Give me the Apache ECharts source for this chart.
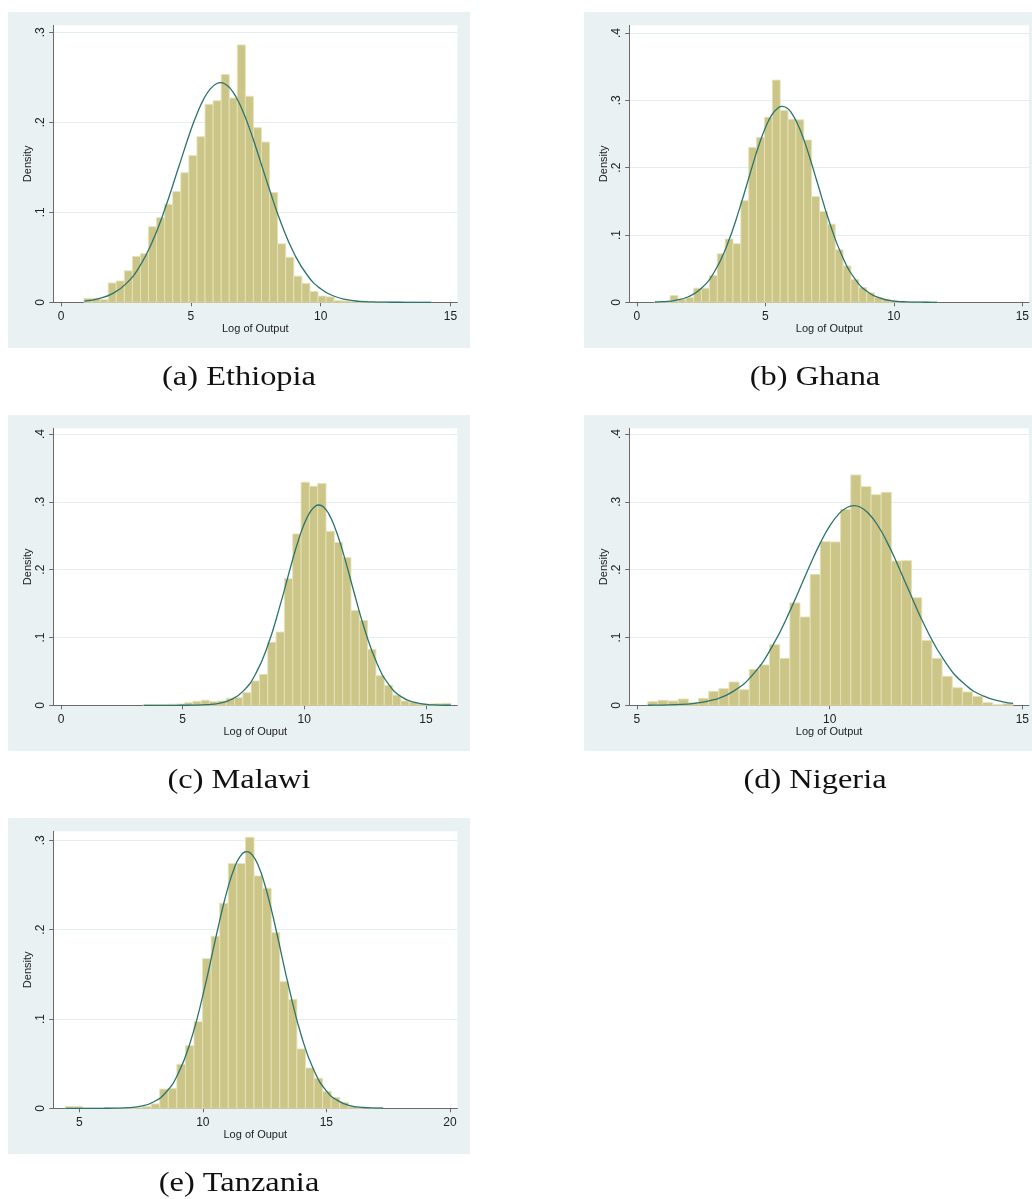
<!DOCTYPE html>
<html>
<head>
<meta charset="utf-8">
<title>Log of output histograms</title>
<script src="https://cdn.jsdelivr.net/npm/echarts@6/dist/echarts.min.js"></script>
<style>
  html, body { margin: 0; padding: 0; background: #ffffff; }
  #chart { width: 1032px; height: 1199px; }
</style>
</head>
<body>
<div id="chart"></div>
<script>
// ---- Histogram bins: first bin edge, bin width, and bar densities ----
const ethiopiaBinStart = 0.886;
const ethiopiaBinWidth = 0.3107;
const ethiopiaDensity = [
  0.0044, 0.0044, 0.0030, 0.0215, 0.0237, 0.0350, 0.0510, 0.0540, 0.0840, 0.0940,
  0.1090, 0.1230, 0.1440, 0.1630, 0.1840, 0.2200, 0.2240, 0.2530, 0.2270, 0.2860,
  0.2290, 0.1940, 0.1780, 0.1220, 0.0650, 0.0500, 0.0290, 0.0210, 0.0120, 0.0070,
  0.0060, 0.0020, 0.0015, 0.0010, 0.0008, 0.0005, 0.0004, 0.0003, 0.0003, 0.0002,
  0.0002, 0.0001, 0.0002
];

const ghanaBinStart = 0.68;
const ghanaBinWidth = 0.306;
const ghanaDensity = [
  0.0015, 0.0010, 0.0100, 0.0045, 0.0070, 0.0210, 0.0210, 0.0400, 0.0720, 0.0940,
  0.0870, 0.1510, 0.2300, 0.2450, 0.2750, 0.3300, 0.2850, 0.2720, 0.2710, 0.2410,
  0.1570, 0.1350, 0.1160, 0.0780, 0.0540, 0.0340, 0.0220, 0.0140, 0.0074, 0.0045,
  0.0030, 0.0015, 0.0008, 0.0005, 0.0005, 0.0004
];

const malawiBinStart = 3.37;
const malawiBinWidth = 0.342;
const malawiDensity = [
  0.0010, 0.0010, 0.0010, 0.0015, 0.0020, 0.0040, 0.0059, 0.0074, 0.0054, 0.0064,
  0.0103, 0.0113, 0.0187, 0.0359, 0.0457, 0.0930, 0.1080, 0.1867, 0.2526, 0.3290,
  0.3230, 0.3270, 0.2565, 0.2400, 0.2180, 0.1400, 0.1250, 0.0826, 0.0437, 0.0295,
  0.0150, 0.0064, 0.0044, 0.0025, 0.0020, 0.0025, 0.0030
];

const nigeriaBinStart = 5.282;
const nigeriaBinWidth = 0.2633;
const nigeriaDensity = [
  0.0054, 0.0074, 0.0064, 0.0093, 0.0044, 0.0103, 0.0206, 0.0246, 0.0344, 0.0231,
  0.0531, 0.0595, 0.0894, 0.0693, 0.1509, 0.1302, 0.1931, 0.2413, 0.2408, 0.2889,
  0.3396, 0.3224, 0.3106, 0.3140, 0.2128, 0.2133, 0.1587, 0.0958, 0.0693, 0.0428,
  0.0260, 0.0197, 0.0133, 0.0039, 0.0010, 0.0025
];

const tanzaniaBinStart = 4.438;
const tanzaniaBinWidth = 0.347;
const tanzaniaDensity = [
  0.0019, 0.0019, 0.0000, 0.0000, 0.0000, 0.0000, 0.0000, 0.0003, 0.0008, 0.0020,
  0.0049, 0.0216, 0.0224, 0.0493, 0.0701, 0.0970, 0.1675, 0.1925, 0.2295, 0.2739,
  0.2739, 0.3034, 0.2601, 0.2463, 0.1966, 0.1418, 0.1220, 0.0664, 0.0451, 0.0336,
  0.0190, 0.0123, 0.0065, 0.0019, 0.0008, 0.0005, 0.0011
];

// ---- Normal density overlays: [log output, density] ----
const ethiopiaNormal = [
  [0.9, 0.0014], [1.5, 0.0044], [2.0, 0.0099], [2.5, 0.0205], [3.0, 0.0386],
  [3.5, 0.0662], [4.0, 0.1036], [4.5, 0.1475], [5.0, 0.1914], [5.25, 0.2104],
  [5.5, 0.2260], [5.75, 0.2372], [6.0, 0.2431], [6.14, 0.2440], [6.3, 0.2428],
  [6.5, 0.2382], [6.75, 0.2276], [7.0, 0.2125], [7.25, 0.1938], [7.5, 0.1726],
  [8.0, 0.1278], [8.5, 0.0861], [9.0, 0.0529], [9.5, 0.0295], [10.0, 0.0150],
  [10.5, 0.0070], [11.0, 0.0029], [11.5, 0.0011], [12.0, 0.0004], [12.5, 0.00013],
  [13.0, 0.00004], [13.5, 0.00001], [14.0, 0.0], [14.26, 0.0]
];
const ghanaNormal = [
  [0.7, 0.0004], [1.0, 0.0009], [1.5, 0.0029], [2.0, 0.0082], [2.5, 0.0204],
  [3.0, 0.0443], [3.5, 0.0841], [4.0, 0.1398], [4.5, 0.2034], [4.75, 0.2335],
  [5.0, 0.2592], [5.25, 0.2783], [5.5, 0.2890], [5.66, 0.2910], [5.85, 0.2882],
  [6.0, 0.2822], [6.25, 0.2653], [6.5, 0.2412], [6.75, 0.2121], [7.0, 0.1805],
  [7.5, 0.1182], [8.0, 0.0678], [8.5, 0.0341], [9.0, 0.0150], [9.5, 0.0058],
  [10.0, 0.0019], [10.5, 0.0006], [11.0, 0.0002], [11.5, 0.00003], [11.7, 0.0]
];
const malawiNormal = [
  [3.4, 0.0], [4.0, 0.0], [4.5, 0.00001], [5.0, 0.00005], [5.5, 0.0002],
  [6.0, 0.0009], [6.5, 0.0030], [7.0, 0.0085], [7.5, 0.0212], [8.0, 0.0463],
  [8.5, 0.0882], [9.0, 0.1465], [9.5, 0.2120], [9.75, 0.2423], [10.0, 0.2675],
  [10.25, 0.2856], [10.45, 0.2935], [10.6, 0.2953], [10.8, 0.2921], [11.0, 0.2826],
  [11.25, 0.2630], [11.5, 0.2365], [11.75, 0.2056], [12.0, 0.1726], [12.5, 0.1099],
  [13.0, 0.0610], [13.5, 0.0295], [14.0, 0.0124], [14.5, 0.0046], [15.0, 0.0015],
  [15.5, 0.0004], [16.03, 0.0001]
];
const nigeriaNormal = [
  [5.28, 0.0001], [5.5, 0.0002], [6.0, 0.0009], [6.5, 0.0029], [7.0, 0.0082],
  [7.5, 0.0205], [8.0, 0.0449], [8.5, 0.0857], [9.0, 0.1429], [9.5, 0.2080],
  [9.75, 0.2384], [10.0, 0.2642], [10.25, 0.2830], [10.45, 0.2917], [10.63, 0.2943],
  [10.8, 0.2920], [11.0, 0.2836], [11.25, 0.2651], [11.5, 0.2395], [11.75, 0.2092],
  [12.0, 0.1767], [12.5, 0.1137], [13.0, 0.0639], [13.5, 0.0313], [14.0, 0.0134],
  [14.5, 0.0050], [14.76, 0.0029]
];
const tanzaniaNormal = [
  [4.44, 0.0], [5.0, 0.0], [5.5, 0.00001], [6.0, 0.00005], [6.5, 0.0002],
  [7.0, 0.0008], [7.5, 0.0025], [8.0, 0.0071], [8.5, 0.0177], [9.0, 0.0388],
  [9.5, 0.0747], [10.0, 0.1264], [10.5, 0.1879], [10.75, 0.2183], [11.0, 0.2454],
  [11.25, 0.2671], [11.5, 0.2815], [11.78, 0.2873], [12.0, 0.2837], [12.25, 0.2713],
  [12.5, 0.2511], [12.75, 0.2252], [13.0, 0.1954], [13.5, 0.1335], [14.0, 0.0801],
  [14.5, 0.0423], [15.0, 0.0195], [15.5, 0.0080], [16.0, 0.0028], [16.5, 0.0009],
  [17.0, 0.0003], [17.3, 0.0001]
];

// ---- Tick labels ----
const ticksX0to15 = [0, 5, 10, 15];
const ticksX5to15 = [5, 10, 15];
const ticksX5to20 = [5, 10, 15, 20];
const ticksY3 = [0, 0.1, 0.2, 0.3];
const ticksY4 = [0, 0.1, 0.2, 0.3, 0.4];

// ---- Panel layout ----
const PANEL_W = 462, PANEL_H = 336;
const panels = [
  { caption: '(a) Ethiopia', xName: 'Log of Output', start: ethiopiaBinStart, width: ethiopiaBinWidth,
    density: ethiopiaDensity, normal: ethiopiaNormal, xTicks: ticksX0to15, yTicks: ticksY3,
    xMin: -0.296, xMax: 15.26, yMax: 0.3078, left: 8, top: 12 },
  { caption: '(b) Ghana', xName: 'Log of Output', start: ghanaBinStart, width: ghanaBinWidth,
    density: ghanaDensity, normal: ghanaNormal, xTicks: ticksX0to15, yTicks: ticksY4,
    xMin: -0.296, xMax: 15.26, yMax: 0.4114, left: 584, top: 12 },
  { caption: '(c) Malawi', xName: 'Log of Ouput', start: malawiBinStart, width: malawiBinWidth,
    density: malawiDensity, normal: malawiNormal, xTicks: ticksX0to15, yTicks: ticksY4,
    xMin: -0.316, xMax: 16.29, yMax: 0.4084, left: 8, top: 415 },
  { caption: '(d) Nigeria', xName: 'Log of Output', start: nigeriaBinStart, width: nigeriaBinWidth,
    density: nigeriaDensity, normal: nigeriaNormal, xTicks: ticksX5to15, yTicks: ticksY4,
    xMin: 4.802, xMax: 15.17, yMax: 0.4084, left: 584, top: 415 },
  { caption: '(e) Tanzania', xName: 'Log of Ouput', start: tanzaniaBinStart, width: tanzaniaBinWidth,
    density: tanzaniaDensity, normal: tanzaniaNormal, xTicks: ticksX5to20, yTicks: ticksY3,
    xMin: 3.947, xMax: 20.30, yMax: 0.3101, left: 8, top: 818 }
];

const REGION_BG = '#E9F1F2';
const GRID_LINE = '#E4EDEF';
const AXIS_GRAY = '#6A6A6A';
const LABEL_COLOR = '#222222';
const BAR_FILL = '#CBC587';
const BAR_EDGE = '#E6E2BA';
const CURVE_COLOR = '#2B736E';
const SANS = '"Liberation Sans", Arial, sans-serif';

function stataTick(v) {
  if (v === 0) return '0';
  return String(v).replace(/^0\./, '.');
}

function renderBin(params, api) {
  const lo = api.coord([api.value(0), api.value(2)]);
  const hi = api.coord([api.value(1), 0]);
  return {
    type: 'rect',
    shape: { x: lo[0], y: lo[1], width: hi[0] - lo[0], height: hi[1] - lo[1] },
    style: { fill: BAR_FILL, stroke: BAR_EDGE, lineWidth: 0.9 }
  };
}

const grid = [], xAxis = [], yAxis = [], series = [], graphic = [];

panels.forEach((p, i) => {
  graphic.push({
    type: 'rect', z: -5, silent: true,
    shape: { x: p.left, y: p.top, width: PANEL_W, height: PANEL_H },
    style: { fill: REGION_BG }
  });
  graphic.push({
    type: 'text', x: p.left + PANEL_W / 2, y: p.top + 366, scaleX: 1.2, silent: true,
    style: {
      text: p.caption, fill: '#111111',
      font: '27px "Liberation Serif", "Times New Roman", serif',
      textAlign: 'center', textVerticalAlign: 'middle'
    }
  });

  grid.push({
    left: p.left + 45.3, top: p.top + 13.3, width: 404, height: 277,
    show: true, backgroundColor: '#ffffff', borderWidth: 0
  });

  xAxis.push({
    type: 'value', gridIndex: i, min: p.xMin, max: p.xMax,
    name: p.xName, nameLocation: 'middle', nameGap: 19,
    nameTextStyle: { fontFamily: SANS, fontSize: 11, color: LABEL_COLOR },
    axisLine: { show: true, onZero: false, lineStyle: { color: AXIS_GRAY, width: 1 } },
    axisTick: { show: true, length: 4, customValues: p.xTicks, lineStyle: { color: AXIS_GRAY } },
    axisLabel: { customValues: p.xTicks, fontFamily: SANS, fontSize: 12, color: LABEL_COLOR, margin: 8 },
    splitLine: { show: false }
  });

  yAxis.push({
    type: 'value', gridIndex: i, min: 0, max: p.yMax,
    name: 'Density', nameLocation: 'middle', nameGap: 20, nameRotate: 90,
    nameTextStyle: { fontFamily: SANS, fontSize: 11, color: LABEL_COLOR },
    axisLine: { show: true, onZero: false, lineStyle: { color: AXIS_GRAY, width: 1 } },
    axisTick: { show: true, length: 4, customValues: p.yTicks, lineStyle: { color: AXIS_GRAY } },
    axisLabel: {
      customValues: p.yTicks, rotate: 90, formatter: stataTick,
      fontFamily: SANS, fontSize: 12, color: LABEL_COLOR, margin: 7
    },
    splitLine: { show: true, lineStyle: { color: GRID_LINE, width: 1 } }
  });

  const bins = p.density.map((d, k) => [p.start + k * p.width, p.start + (k + 1) * p.width, d]);
  series.push({
    type: 'custom', xAxisIndex: i, yAxisIndex: i, silent: true, z: 2,
    renderItem: renderBin, data: bins, encode: { x: [0, 1], y: 2 }
  });
  series.push({
    type: 'line', xAxisIndex: i, yAxisIndex: i, silent: true, z: 3,
    data: p.normal, showSymbol: false, smooth: 0.5,
    lineStyle: { color: CURVE_COLOR, width: 1.3 }
  });
});

const chart = echarts.init(document.getElementById('chart'), null, { renderer: 'canvas' });
chart.setOption({
  animation: false,
  backgroundColor: '#ffffff',
  grid, xAxis, yAxis, series, graphic
});
</script>
</body>
</html>
